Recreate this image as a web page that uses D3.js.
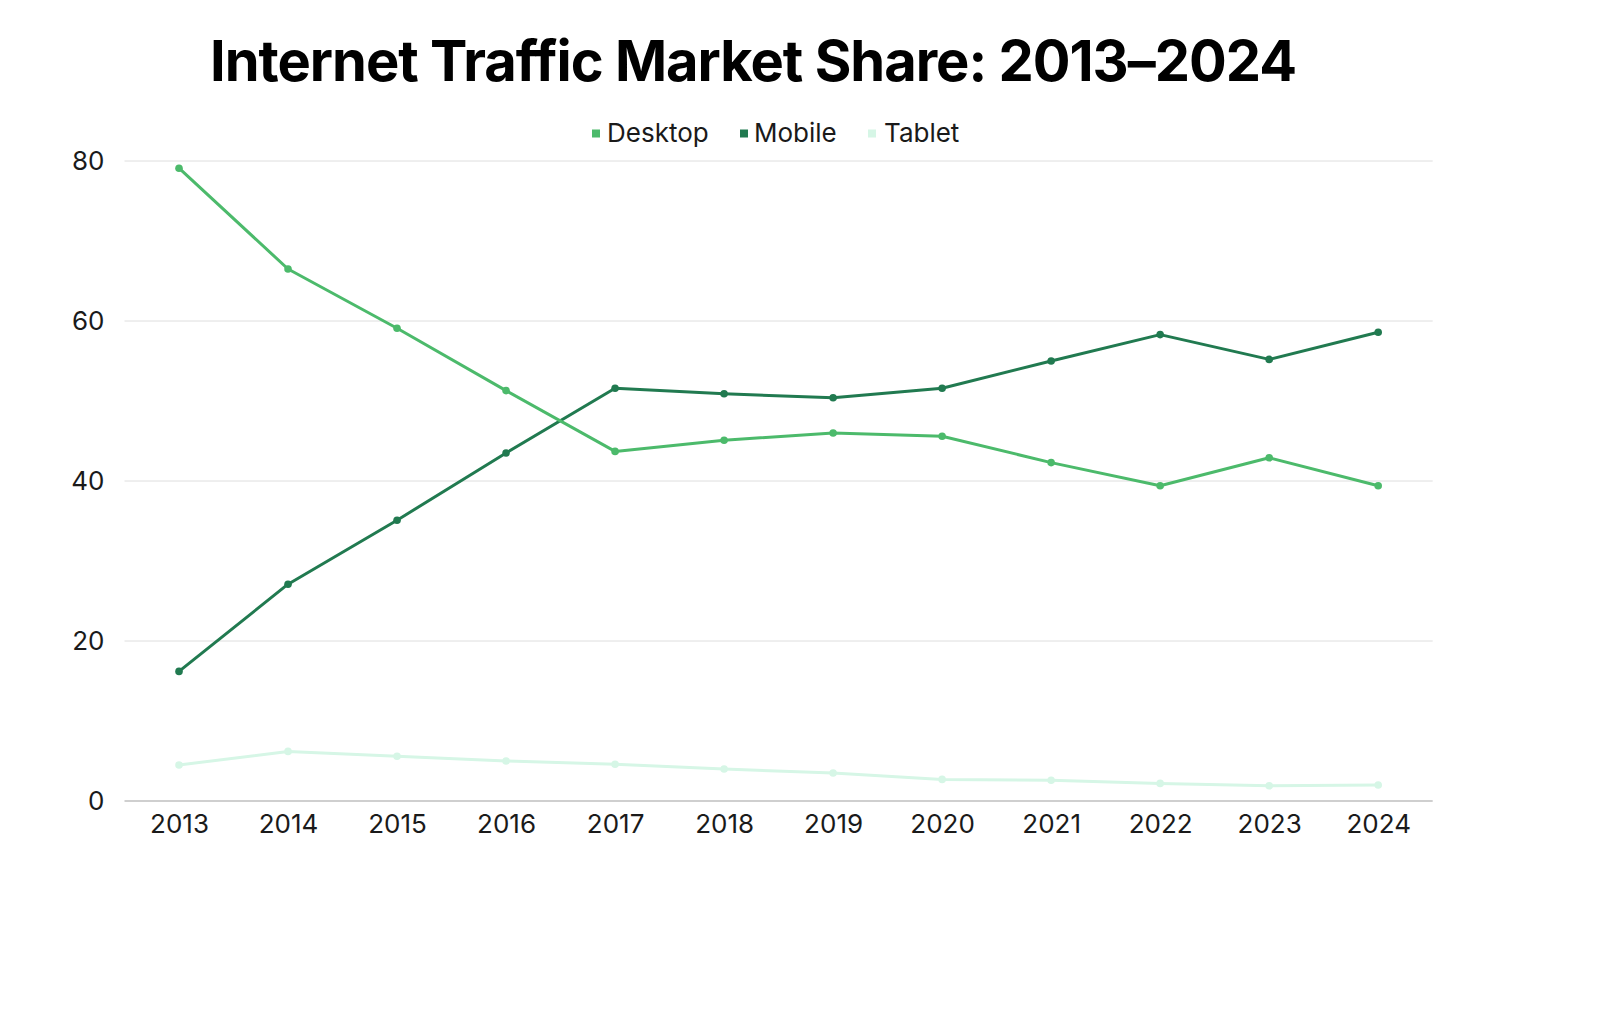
<!DOCTYPE html>
<html>
<head>
<meta charset="utf-8">
<script src="https://cdn.jsdelivr.net/npm/d3@7/dist/d3.min.js"></script>
<style>
  html, body { margin: 0; padding: 0; background: #fff; }
  svg { display: block; font-family: Inter, "Open Sans", sans-serif; }
</style>
</head>
<body>
<svg id="chart" width="1600" height="1024"></svg>
<script>
const years = ["2013","2014","2015","2016","2017","2018","2019","2020","2021","2022","2023","2024"];
const desktop = [79.1, 66.5, 59.1, 51.3, 43.7, 45.1, 46.0, 45.6, 42.3, 39.4, 42.9, 39.4];
const mobile  = [16.2, 27.1, 35.1, 43.5, 51.6, 50.9, 50.4, 51.6, 55.0, 58.3, 55.2, 58.6];
const tablet  = [4.5, 6.2, 5.6, 5.0, 4.6, 4.0, 3.5, 2.7, 2.6, 2.2, 1.9, 2.0];
const yTicks = [0, 20, 40, 60, 80];
const seriesNames = ["Desktop", "Mobile", "Tablet"];
const seriesColors = ["#4cba6b", "#217a50", "#d6f6e6"];
const titleText = "Internet Traffic Market Share: 2013–2024";

(function () {
const series = [desktop, mobile, tablet].map((v, i) => ({ name: seriesNames[i], color: seriesColors[i], values: v }));

const svg = d3.select("#chart");
const pLeft = 124.5, pRight = 1432.7, pTop = 161, pBottom = 801;

const x = d3.scalePoint().domain(years).range([pLeft, pRight]).padding(0.5);
const y = d3.scaleLinear().domain([0, 80]).range([pBottom, pTop]);

// title
svg.append("text")
  .attr("x", 753).attr("y", 81)
  .attr("text-anchor", "middle")
  .attr("font-size", 56).attr("font-weight", 700)
  .attr("letter-spacing", -1)
  .attr("fill", "#000")
  .text(titleText);

// gridlines
const grid = svg.append("g");
grid.selectAll("line").data(yTicks.filter(d => d !== 0)).join("line")
  .attr("x1", pLeft).attr("x2", pRight)
  .attr("y1", d => y(d)).attr("y2", d => y(d))
  .attr("stroke", "#dedede").attr("stroke-width", 1);

// y axis labels
const yAxis = svg.append("g").attr("transform", `translate(${pLeft - 20},0)`)
  .call(d3.axisLeft(y).tickValues(yTicks).tickSize(0).tickPadding(0));
yAxis.select(".domain").remove();
yAxis.selectAll("text").attr("font-size", 26).attr("fill", "#1a1a1a").attr("font-family", "Inter, sans-serif");

// x axis
const xAxis = svg.append("g").attr("transform", `translate(0,${pBottom})`)
  .call(d3.axisBottom(x).tickSize(0).tickPadding(14));
xAxis.select(".domain").attr("stroke", "#a0a0a0").attr("stroke-width", 1.2)
  .attr("d", `M${pLeft},0H${pRight}`);
xAxis.selectAll("text").attr("font-size", 26).attr("fill", "#1a1a1a").attr("font-family", "Inter, sans-serif");

// lines
const line = d3.line().x((d, i) => x(years[i])).y(d => y(d));
const g = svg.append("g");
[series[2], series[1], series[0]].forEach(s => {
  g.append("path").datum(s.values)
    .attr("d", line)
    .attr("fill", "none")
    .attr("stroke", s.color)
    .attr("stroke-width", 3)
    .attr("stroke-linejoin", "round");
  g.selectAll(null).data(s.values).join("circle")
    .attr("cx", (d, i) => x(years[i]))
    .attr("cy", d => y(d))
    .attr("r", 3.8)
    .attr("fill", s.color);
});

// legend
const legendPos = [
  { mx: 592, tx: 607 },
  { mx: 740, tx: 754 },
  { mx: 868, tx: 884 }
];
const lg = svg.append("g");
legendPos.forEach((it, i) => {
  lg.append("rect").attr("x", it.mx).attr("y", 129.5).attr("width", 8).attr("height", 8)
    .attr("fill", seriesColors[i]);
  lg.append("text").attr("x", it.tx).attr("y", 142)
    .attr("font-size", 26).attr("fill", "#1a1a1a")
    .text(seriesNames[i]);
});
})();
</script>
</body>
</html>
